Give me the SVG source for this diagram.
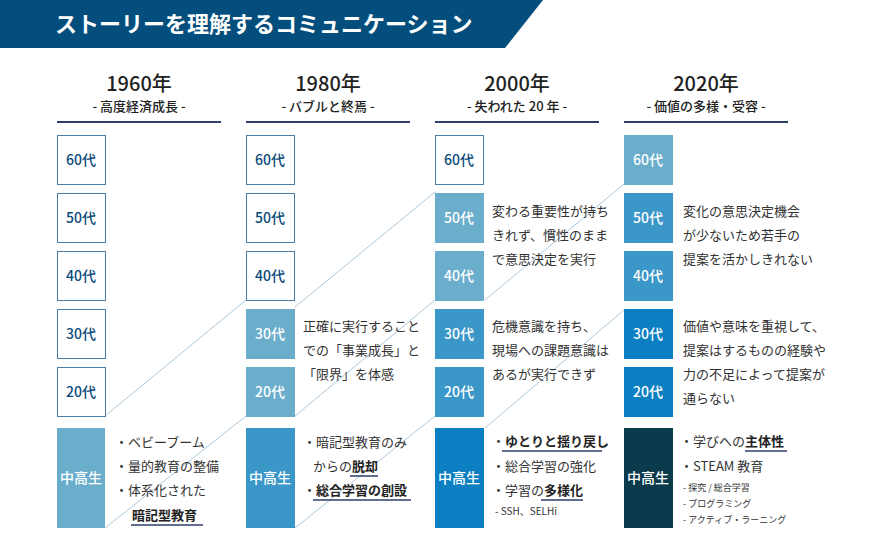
<svg xmlns="http://www.w3.org/2000/svg" width="870" height="548" viewBox="0 0 870 548">
<style>
text{font-family:"Noto Sans CJK JP","Noto Sans",sans-serif;fill:#333}
.yr{font-size:20px;font-weight:500;text-anchor:middle;fill:#222}
.sub{font-size:13px;font-weight:500;text-anchor:middle;fill:#222}
.hl{stroke:#2c3e6b;stroke-width:2}
.b{stroke-width:1}
.w{fill:#fff;stroke:#4a7ea6}
.l{fill:#6aaecc}
.m{fill:#3b97c8}
.d{fill:#0b7fc2}
.n{fill:#0b3a4d}
.bt{font-size:14px;font-weight:500;text-anchor:middle;fill:#fff}
.bt.dk{fill:#0a4a7a}
.t{font-size:13px}
.s{font-size:10px}
.bo{font-weight:bold;fill:#222}
.ul{stroke:#2c3e6b;stroke-width:1.5}
.cn{stroke:#a9c8dd;stroke-width:1;fill:none}
</style>
<polygon points="0,0 543,0 505,48 0,48" fill="#044e7e"/>
<text x="55" y="32" style="font-size:22px;font-weight:bold;fill:#fff">ストーリーを理解するコミュニケーション</text>

<g id="headers">
<text class="yr" x="139" y="91">1960年</text><text class="sub" x="139" y="111">- 高度経済成長 -</text><line class="hl" x1="57" y1="122" x2="221" y2="122"/>
<text class="yr" x="328" y="91">1980年</text><text class="sub" x="328" y="111">- バブルと終焉 -</text><line class="hl" x1="246" y1="122" x2="410" y2="122"/>
<text class="yr" x="517" y="91">2000年</text><text class="sub" x="517" y="111">- 失われた 20 年 -</text><line class="hl" x1="435" y1="122" x2="599" y2="122"/>
<text class="yr" x="706" y="91">2020年</text><text class="sub" x="706" y="111">- 価値の多様・受容 -</text><line class="hl" x1="624" y1="122" x2="788" y2="122"/>
</g>

<g id="connectors">
<line class="cn" x1="105" y1="416" x2="246" y2="300"/>
<line class="cn" x1="295" y1="307" x2="435" y2="192"/>
<line class="cn" x1="105" y1="528" x2="246" y2="416"/>
<line class="cn" x1="295" y1="416" x2="435" y2="300"/>
<line class="cn" x1="485" y1="300" x2="624" y2="184"/>
<line class="cn" x1="295" y1="528" x2="435" y2="416"/>
<line class="cn" x1="485" y1="428" x2="624" y2="310"/>
</g>

<g id="col1960">
<rect class="w" x="57.5" y="135.5" width="48" height="49"/><text class="bt dk" x="81" y="165">60代</text>
<rect class="w" x="57.5" y="193.5" width="48" height="49"/><text class="bt dk" x="81" y="223">50代</text>
<rect class="w" x="57.5" y="251.5" width="48" height="49"/><text class="bt dk" x="81" y="281">40代</text>
<rect class="w" x="57.5" y="309.5" width="48" height="49"/><text class="bt dk" x="81" y="339">30代</text>
<rect class="w" x="57.5" y="367.5" width="48" height="49"/><text class="bt dk" x="81" y="397">20代</text>
<rect class="l" x="57" y="428" width="48" height="100"/><text class="bt" x="81" y="483">中高生</text>
<text class="t" x="115" y="447">・ベビーブーム</text>
<text class="t" x="115" y="471">・量的教育の整備</text>
<text class="t" x="115" y="495">・体系化された</text>
<text class="t bo" x="132" y="520">暗記型教育</text><line class="ul" x1="131" y1="525" x2="203" y2="525"/>
</g>

<g id="col1980">
<rect class="w" x="246.5" y="135.5" width="48" height="49"/><text class="bt dk" x="270" y="165">60代</text>
<rect class="w" x="246.5" y="193.5" width="48" height="49"/><text class="bt dk" x="270" y="223">50代</text>
<rect class="w" x="246.5" y="251.5" width="48" height="49"/><text class="bt dk" x="270" y="281">40代</text>
<rect class="l" x="246" y="309" width="49" height="50"/><text class="bt" x="270" y="339">30代</text>
<rect class="l" x="246" y="367" width="49" height="50"/><text class="bt" x="270" y="397">20代</text>
<rect class="m" x="246" y="428" width="49" height="100"/><text class="bt" x="270" y="483">中高生</text>
<text class="t" x="303" y="331">正確に実行すること</text>
<text class="t" x="303" y="355">での「事業成長」と</text>
<text class="t" x="303" y="379">「限界」を体感</text>
<text class="t" x="303" y="447">・暗記型教育のみ</text>
<text class="t" x="313" y="471">からの<tspan class="bo">脱却</tspan></text><line class="ul" x1="350" y1="476" x2="378" y2="476"/>
<text class="t" x="303" y="495">・<tspan class="bo">総合学習の創設</tspan></text><line class="ul" x1="313" y1="500" x2="411" y2="500"/>
</g>

<g id="col2000">
<rect class="w" x="435.5" y="135.5" width="48" height="49"/><text class="bt dk" x="459" y="165">60代</text>
<rect class="l" x="435" y="193" width="49" height="50"/><text class="bt" x="459" y="223">50代</text>
<rect class="l" x="435" y="251" width="49" height="50"/><text class="bt" x="459" y="281">40代</text>
<rect class="m" x="435" y="309" width="49" height="50"/><text class="bt" x="459" y="339">30代</text>
<rect class="m" x="435" y="367" width="49" height="50"/><text class="bt" x="459" y="397">20代</text>
<rect class="d" x="435" y="428" width="49" height="100"/><text class="bt" x="459" y="483">中高生</text>
<text class="t" x="492" y="216">変わる重要性が持ち</text>
<text class="t" x="492" y="240">きれず、慣性のまま</text>
<text class="t" x="492" y="264">で意思決定を実行</text>
<text class="t" x="492" y="331">危機意識を持ち、</text>
<text class="t" x="492" y="355">現場への課題意識は</text>
<text class="t" x="492" y="379">あるが実行できず</text>
<text class="t" x="492" y="446">・<tspan class="bo">ゆとりと揺り戻し</tspan></text><line class="ul" x1="502" y1="451" x2="602" y2="451"/>
<text class="t" x="492" y="471">・総合学習の強化</text>
<text class="t" x="492" y="495">・学習の<tspan class="bo">多様化</tspan></text><line class="ul" x1="541" y1="500" x2="583" y2="500"/>
<text class="s" x="495" y="515">- SSH、SELHi</text>
</g>

<g id="col2020">
<rect class="l" x="624" y="135" width="49" height="50"/><text class="bt" x="648" y="165">60代</text>
<rect class="m" x="624" y="193" width="49" height="50"/><text class="bt" x="648" y="223">50代</text>
<rect class="m" x="624" y="251" width="49" height="50"/><text class="bt" x="648" y="281">40代</text>
<rect class="d" x="624" y="309" width="49" height="50"/><text class="bt" x="648" y="339">30代</text>
<rect class="d" x="624" y="367" width="49" height="50"/><text class="bt" x="648" y="397">20代</text>
<rect class="n" x="624" y="428" width="49" height="100"/><text class="bt" x="648" y="483">中高生</text>
<text class="t" x="683" y="216">変化の意思決定機会</text>
<text class="t" x="683" y="240">が少ないため若手の</text>
<text class="t" x="683" y="264">提案を活かしきれない</text>
<text class="t" x="683" y="331">価値や意味を重視して、</text>
<text class="t" x="683" y="355">提案はするものの経験や</text>
<text class="t" x="683" y="379">力の不足によって提案が</text>
<text class="t" x="683" y="403">通らない</text>
<text class="t" x="680" y="446">・学びへの<tspan class="bo">主体性</tspan></text><line class="ul" x1="745" y1="451" x2="787" y2="451"/>
<text class="t" x="680" y="471">・STEAM 教育</text>
<text class="s" x="683" y="491" style="font-size:9px">-  探究 / 総合学習</text>
<text class="s" x="683" y="507" style="font-size:9px">- プログラミング</text>
<text class="s" x="683" y="523" style="font-size:9px">-  アクティブ・ラーニング</text>
</g>
</svg>
